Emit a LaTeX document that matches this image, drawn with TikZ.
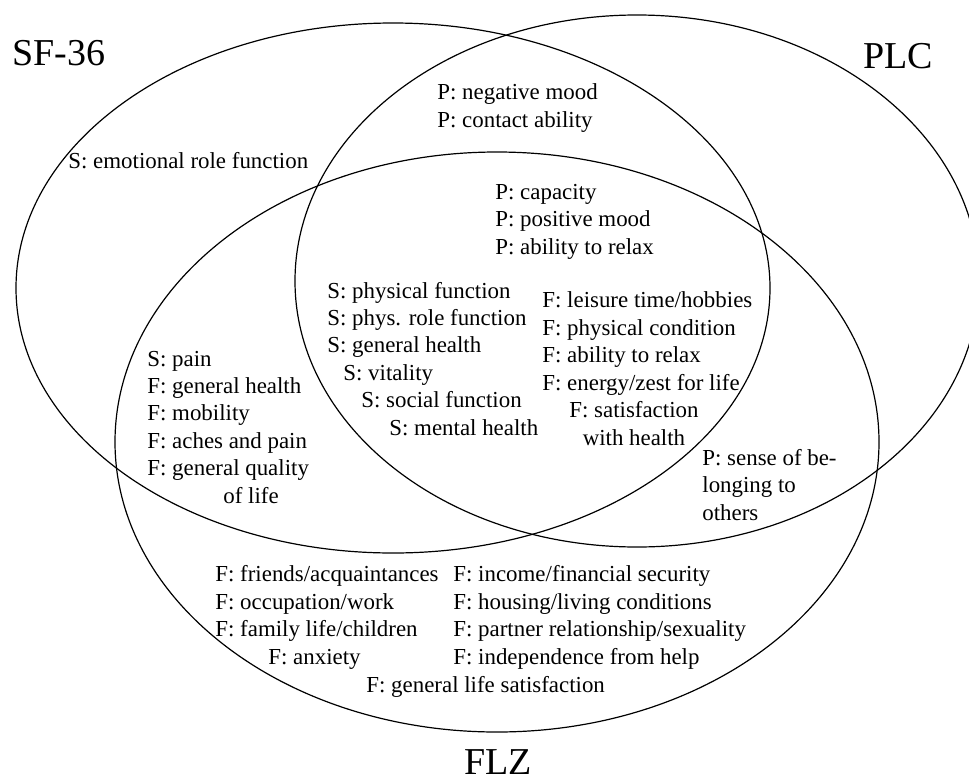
\documentclass[tikz,border=0pt]{standalone}
\usepackage{fontspec}
\setmainfont{Liberation Serif}
\usetikzlibrary{positioning}

\begin{document}
\begin{tikzpicture}[
        x=0.5pt, y=-0.5pt,
        set line/.style={line width=0.6pt},
        set name/.style={font=\fontsize{19}{22}\selectfont, inner sep=0pt, anchor=base west},
        item list/.style={font=\fontsize{11.45}{13.7}\selectfont, inner sep=0pt, anchor=base west, align=left},
        every node/.style={color=black}
        ]
        \useasboundingbox (0,0) rectangle (969,777);
        \clip (0,0) rectangle (969,777);

        % the three sets
        \draw[set line] (393,288) ellipse [x radius=377, y radius=265];
        \draw[set line] (637,281) ellipse [x radius=342, y radius=266];
        \draw[set line] (497,442) ellipse [x radius=382, y radius=290];

        % set names
        \node[set name] (sf) at (12,65) {SF-36};
        \node[set name] (plc) at (863,68) {PLC};
        \node[set name] (flz) at (464,774) {FLZ};

        % SF-36 only (lists sit on the baseline of their last line)
        \node[item list] (emo) at (68,168) {S: emotional role function};

        % SF-36 and PLC
        \node[item list] (neg) at (437,127) {P: negative mood\\P: contact ability};

        % all three
        \node[item list] (cap) at (495,254) {P: capacity\\P: positive mood\\P: ability to relax};
        \node[item list] (phys) at (327,435) {S: physical function\\S: phys. role function\\S: general health\\
            \hspace*{8pt}S: vitality\\\hspace*{17pt}S: social function\\\hspace*{31pt}S: mental health};

        % PLC and FLZ
        \node[item list] (leis) at (542,390) {F: leisure time/hobbies\\F: physical condition\\F: ability to relax\\F: energy/zest for life};
        \node[item list, align=center] (sat) at (569,445) {F: satisfaction\\with health};
        \node[item list] (bel) at (702,520) {P: sense of be-\\longing to\\others};

        % SF-36 and FLZ
        \node[item list] (pain) at (147,503) {S: pain\\F: general health\\F: mobility\\F: aches and pain\\F: general quality\\
            \hspace*{38pt}of life};

        % FLZ only
        \node[item list] (frnd) at (215,664) {F: friends/acquaintances\\F: occupation/work\\F: family life/children\\
            \hspace*{26.5pt}F: anxiety};
        \node[item list] (inc) at (453,664) {F: income/financial security\\F: housing/living conditions\\
            F: partner relationship/sexuality\\F: independence from help};
        \node[item list] (life) at (366,692) {F: general life satisfaction};

    \end{tikzpicture}
\end{document}
